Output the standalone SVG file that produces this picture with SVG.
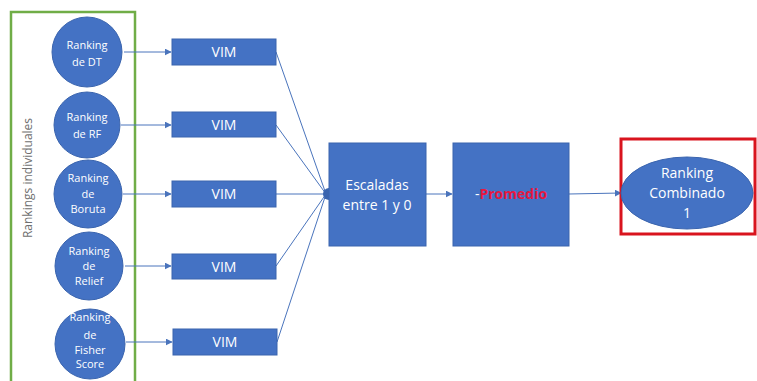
<svg xmlns="http://www.w3.org/2000/svg" width="757" height="381" viewBox="0 0 757 381">
<style>
.node{fill:#4472C4;stroke:#3A64AE;stroke-width:1}
.t{font-family:"Open Sans","Liberation Sans",sans-serif;fill:#fff;text-anchor:middle}
.s{font-size:11px}
.m{font-size:14px}
.c{stroke:#4A74BC;stroke-width:1;fill:none}
</style>
<defs>
<marker id="a" viewBox="0 0 10 10" refX="9" refY="5" markerWidth="7" markerHeight="7" orient="auto" markerUnits="userSpaceOnUse">
<path d="M0,0 L10,5 L0,10 z" fill="#4A74BC"/>
</marker>
</defs>
<rect width="757" height="381" fill="#fff"/>
<g id="group-box">
<rect x="11" y="12" width="124" height="375" fill="none" stroke="#70AD47" stroke-width="2.5"/>
<text x="32" y="178" transform="rotate(-90 32 178)" font-family="'Open Sans','Liberation Sans',sans-serif" font-size="12" fill="#6F6F6F" text-anchor="middle">Rankings individuales</text>
</g>
<g id="connectors">
<line class="c" x1="124" y1="52" x2="171" y2="52" marker-end="url(#a)"/>
<line class="c" x1="121" y1="125" x2="171" y2="125" marker-end="url(#a)"/>
<line class="c" x1="123" y1="194" x2="171" y2="194" marker-end="url(#a)"/>
<line class="c" x1="125" y1="266" x2="171" y2="266" marker-end="url(#a)"/>
<line class="c" x1="126" y1="342" x2="172" y2="342" marker-end="url(#a)"/>
<line class="c" x1="276" y1="52" x2="326" y2="194"/>
<line class="c" x1="276" y1="125" x2="326" y2="194"/>
<line class="c" x1="276" y1="194" x2="326" y2="194"/>
<line class="c" x1="276" y1="266" x2="326" y2="194"/>
<line class="c" x1="277" y1="342" x2="326" y2="194"/>
<line class="c" x1="426" y1="194" x2="452" y2="194" marker-end="url(#a)"/>
<line class="c" x1="569" y1="194" x2="621" y2="193" marker-end="url(#a)"/>
<path d="M329,188 A6,6 0 0 0 329,200 z" fill="#3A64AE"/>
</g>
<g id="rank-dt"><circle class="node" cx="87" cy="52" r="35"/><text class="t s" x="87" y="49">Ranking</text><text class="t s" x="87" y="66">de DT</text></g>
<g id="rank-rf"><circle class="node" cx="87" cy="125" r="33"/><text class="t s" x="87" y="121">Ranking</text><text class="t s" x="87" y="138">de RF</text></g>
<g id="rank-boruta"><circle class="node" cx="88" cy="194" r="34"/><text class="t s" x="88" y="182">Ranking</text><text class="t s" x="88" y="198">de</text><text class="t s" x="88" y="213">Boruta</text></g>
<g id="rank-relief"><circle class="node" cx="89" cy="266" r="34"/><text class="t s" x="89" y="255">Ranking</text><text class="t s" x="89" y="270">de</text><text class="t s" x="89" y="285">Relief</text></g>
<g id="rank-fisher"><circle class="node" cx="90" cy="344" r="35"/><text class="t s" x="90" y="321">Ranking</text><text class="t s" x="90" y="339">de</text><text class="t s" x="90" y="354">Fisher</text><text class="t s" x="90" y="368">Score</text></g>
<g id="vim1"><rect class="node" x="172" y="39" width="104" height="26"/><text class="t m" x="224" y="57">VIM</text></g>
<g id="vim2"><rect class="node" x="172" y="112" width="104" height="25"/><text class="t m" x="224" y="130">VIM</text></g>
<g id="vim3"><rect class="node" x="172" y="181" width="104" height="26"/><text class="t m" x="224" y="199">VIM</text></g>
<g id="vim4"><rect class="node" x="172" y="254" width="104" height="25"/><text class="t m" x="224" y="272">VIM</text></g>
<g id="vim5"><rect class="node" x="173" y="329" width="104" height="26"/><text class="t m" x="225" y="347">VIM</text></g>
<g id="escaladas"><rect class="node" x="329" y="143" width="97" height="103"/><text class="t m" x="377" y="190">Escaladas</text><text class="t m" x="377" y="210">entre 1 y 0</text></g>
<g id="promedio"><rect class="node" x="453" y="143" width="116" height="103"/><text class="t m" x="511" y="199"><tspan fill="#fff" font-weight="normal">-</tspan><tspan fill="#E8173F" font-weight="bold">Promedio</tspan></text></g>
<g id="combinado">
<rect x="621" y="139" width="134" height="95" fill="none" stroke="#D9141E" stroke-width="3"/>
<ellipse class="node" cx="687" cy="193" rx="66" ry="36"/>
<text class="t m" x="687" y="178">Ranking</text><text class="t m" x="687" y="198">Combinado</text><text class="t m" x="687" y="218">1</text>
</g>
</svg>
